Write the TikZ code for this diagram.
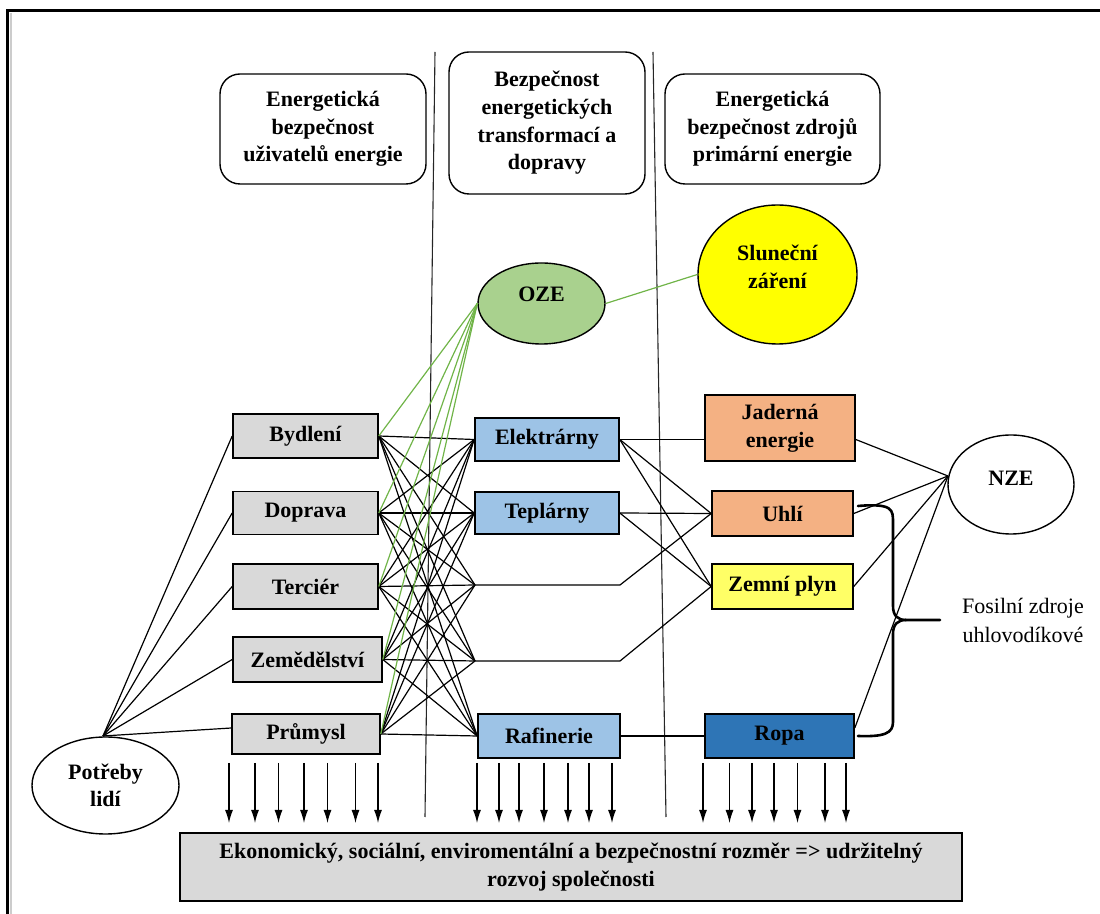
\documentclass[tikz,border=0pt]{standalone}
\usepackage{fontspec}
\setmainfont{Liberation Serif}
\usetikzlibrary{shapes.geometric,arrows.meta}
\definecolor{boxgray}{HTML}{D9D9D9}
\definecolor{boxblue}{HTML}{9DC3E6}
\definecolor{boxorange}{HTML}{F4B183}
\definecolor{boxyellow}{HTML}{FFFF66}
\definecolor{ropablue}{HTML}{2E75B6}
\definecolor{ozegreen}{HTML}{A9D18E}
\definecolor{sunyellow}{HTML}{FFFF00}
\definecolor{greenline}{RGB}{112,180,72}
\tikzset{
  lbl/.style={font=\fontsize{11pt}{13.8pt}\selectfont\bfseries, align=center, inner sep=0pt},
  plain/.style={font=\fontsize{11pt}{14.5pt}\selectfont, align=center, inner sep=0pt},
  hdr/.style={lbl, draw, line width=0.7pt, rounded corners=10pt},
  bx/.style={lbl, draw, line width=0.8pt},
  ell/.style={lbl, draw, ellipse, line width=0.7pt},
  conn/.style={line width=0.6pt},
  gconn/.style={line width=0.6pt, greenline},
  sepline/.style={line width=0.55pt, black!85},
  arr/.style={line width=0.6pt, -{Latex[length=6.5pt,width=4pt]}},
  bracepath/.style={line width=1.3pt, line cap=round},
}
\begin{document}
\begin{tikzpicture}[x=0.5pt,y=-0.5pt]
\useasboundingbox (0,0) rectangle (1100,914);
% frame
\draw[line width=1.5pt] (7,914) -- (7,11) -- (1100,11);
\draw[line width=1pt, black!20] (11,13) -- (11,914);
% separators
\coordinate (s1t) at (435,52); \coordinate (s1b) at (425,817);
\coordinate (s2t) at (653,52); \coordinate (s2b) at (666,817);
\draw[sepline] (s1t) -- (s1b);
\draw[sepline] (s2t) -- (s2b);
% headers
\node[hdr, minimum width=103pt, minimum height=55pt] (h1) at (323,129) {Energetická\\bezpečnost\\uživatelů energie};
\node[hdr, minimum width=98pt, minimum height=71pt] (h2) at (547,123) {Bezpečnost\\energetických\\transformací a\\dopravy};
\node[hdr, minimum width=107.5pt, minimum height=55pt] (h3) at (772.5,129) {Energetická\\bezpečnost zdrojů\\primární energie};
% ellipses
\node[ell, fill=ozegreen, minimum width=63.5pt, minimum height=40.5pt] (oze) at (541.5,303.5) {};
\node[lbl] (ozet) at (541.5,294) {OZE};
\node[ell, fill=sunyellow, minimum width=79.5pt, minimum height=69.5pt] (sun) at (777.5,274.5) {};
\node[lbl] (sunt) at (777.5,267) {Sluneční\\záření};
\node[ell, fill=white, minimum width=63pt, minimum height=49.5pt] (nze) at (1011,484.5) {};
\node[lbl] (nzet) at (1011,478) {NZE};
\node[ell, fill=white, minimum width=73.5pt, minimum height=48.5pt] (pot) at (105.5,785.5) {Potřeby\\lidí};
% left boxes
\node[bx, fill=boxgray, minimum width=72.5pt, minimum height=22pt] (byd) at (305.5,436) {Bydlení};
\node[bx, fill=boxgray, minimum width=72.5pt, minimum height=21.5pt] (dop) at (305.5,513) {Doprava};
\node[bx, fill=boxgray, minimum width=72.5pt, minimum height=22.5pt] (ter) at (305.5,586.5) {Terciér};
\node[bx, fill=boxgray, minimum width=74.5pt, minimum height=22.5pt] (zem) at (307.5,659.5) {Zemědělství};
\node[bx, fill=boxgray, minimum width=74pt, minimum height=20pt] (pru) at (306,734) {Průmysl};
% middle boxes
\node[bx, fill=boxblue, minimum width=72pt, minimum height=21.5pt] (ele) at (547,439.5) {Elektrárny};
\node[bx, fill=boxblue, minimum width=72pt, minimum height=21pt] (tep) at (547,513) {Teplárny};
\node[bx, fill=boxblue, minimum width=71pt, minimum height=22pt] (raf) at (549,736) {Rafinerie};
% right boxes
\node[bx, fill=boxorange, minimum width=75pt, minimum height=33pt] (jad) at (780,428) {Jaderná\\energie};
\node[bx, fill=boxorange, minimum width=70.5pt, minimum height=22.5pt] (uhl) at (782.5,513.5) {Uhlí};
\node[bx, fill=boxyellow, minimum width=70.5pt, minimum height=22.5pt] (zpl) at (782.5,586.5) {Zemní plyn};
\node[bx, fill=ropablue, minimum width=74.5pt, minimum height=22pt] (ropa) at (779.5,736) {Ropa};
% bottom box
\node[bx, fill=boxgray, minimum width=391pt, minimum height=34pt] (eko) at (571,867) {Ekonomický, sociální, enviromentální a bezpečnostní rozměr => udržitelný\\rozvoj společnosti};
% fossil label
\node[plain] (fos) at (1023,620.5) {Fosilní zdroje\\uhlovodíkové};
% potreby connections
\coordinate (potT) at (103,736);
\foreach \n in {byd,dop,ter,zem} \draw[conn] (potT) -- (\n.west);
\draw[conn] (potT) -- ([yshift=3pt]pru.west);
% junction points
\coordinate (p3) at (475,585);
\coordinate (p3b) at (620,585);
\coordinate (p4) at (475,661);
\coordinate (p4b) at (620,661);
% full bipartite left -> middle
\foreach \a in {byd,dop,ter,zem,pru}{
  \foreach \b in {ele.west,tep.west,p3,p4,raf.west}{
    \draw[conn] (\a.east) -- (\b);
  }
}
\draw[conn] (p3) -- (p3b) -- (uhl.west);
\draw[conn] (p4) -- (p4b) -- (zpl.west);
% middle -> right
\draw[conn] (ele.east) -- (jad.west |- ele.east);
\draw[conn] (ele.east) -- (uhl.west);
\draw[conn] (ele.east) -- (zpl.west);
\draw[conn] (tep.east) -- (uhl.west);
\draw[conn] (tep.east) -- (zpl.west);
\draw[conn] (raf.east) -- (ropa.west);
% right -> NZE
\coordinate (nzeL) at (948,476);
\draw[conn] (jad.east |- ele.east) -- (nzeL);
\draw[conn] (uhl.east) -- (nzeL);
\draw[conn] (zpl.east) -- (nzeL);
\draw[conn] ([yshift=4pt]ropa.east) -- (nzeL);
% OZE green lines
\draw[gconn] (oze.east) -- (sun.west);
\foreach \n in {byd,dop,ter,zem,pru} \draw[gconn] (oze.west) -- (\n.east);
% brace
\coordinate (bt) at (858,506);
\coordinate (bb) at (858,736);
\coordinate (btip) at (940,620);
\draw[bracepath] (bt) .. controls (893,503) and (893,510) .. (893,522) -- (893,606) .. controls (893,616) and (898,620) .. (906,620) -- (btip);
\draw[bracepath] (906,620) .. controls (898,620) and (893,624) .. (893,634) -- (893,722) .. controls (893,733) and (885,737) .. (bb);
% bottom arrows
\foreach \x in {229,255,278.5,304,327.5,355.5,378,477,499,519,544,568,589,612,703,729.5,752,774,797.5,825,846}
  \draw[arr] (\x,763) -- (\x,823);
\end{tikzpicture}
\end{document}
